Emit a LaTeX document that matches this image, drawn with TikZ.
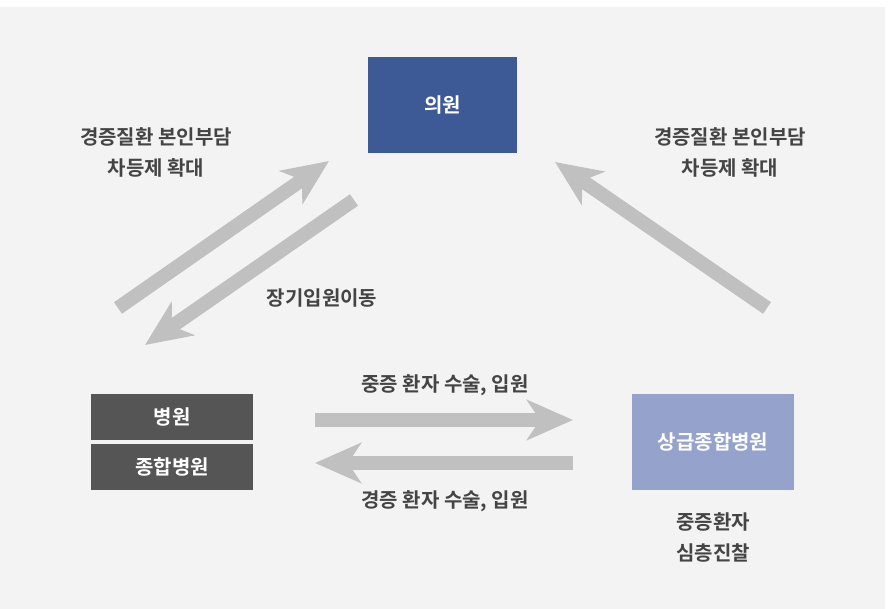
\documentclass[tikz,border=0pt]{standalone}
\usepackage{fontspec}
\newfontfamily\kr{Noto Sans CJK KR}[BoldFont={* Bold}]
\usetikzlibrary{arrows.meta}
\definecolor{bg}{HTML}{F3F3F3}
\definecolor{blueb}{HTML}{3D5A96}
\definecolor{darkb}{HTML}{555555}
\definecolor{lightb}{HTML}{95A3CC}
\definecolor{arr}{HTML}{C0C0C0}
\definecolor{txt}{HTML}{444444}
\begin{document}
\begin{tikzpicture}[x=1pt,y=-1pt,
  lbl/.style={font=\kr\bfseries\fontsize{20}{31}\selectfont, text=txt, align=center, inner sep=0pt},
  boxtxt/.style={font=\kr\bfseries\fontsize{20}{22}\selectfont, text=white, inner sep=0pt},
  bigarrow/.style={draw=arr, line width=14pt, -{Stealth[length=46pt,width=40pt,inset=13pt]}}]
\useasboundingbox (0,0) rectangle (889,609);
\fill[white] (0,0) rectangle (889,609);
\fill[bg] (0,7) rectangle (885,609);
% boxes
\fill[blueb] (368,57) rectangle (517,153);
\node[boxtxt] (clinic) at (442.5,105) {의원};
\fill[darkb] (91,394) rectangle (253,440);
\node[boxtxt] (hosp) at (172,417) {병원};
\fill[darkb] (91,444) rectangle (253,490);
\node[boxtxt] (genhosp) at (172,467) {종합병원};
\fill[lightb] (632,394) rectangle (794,490);
\node[boxtxt] (tert) at (713,442) {상급종합병원};
% labels
\node[lbl] (l1) at (156,152) {경증질환 본인부담\\차등제 확대};
\node[lbl] (l2) at (730,152) {경증질환 본인부담\\차등제 확대};
\node[lbl] (l3) at (322,298) {장기입원이동};
\node[lbl] (l4) at (445,385) {중증 환자 수술, 입원};
\node[lbl] (l5) at (445,501) {경증 환자 수술, 입원};
\node[lbl] (l6) at (713,537) {중증환자\\심층진찰};
% arrows
\coordinate (a1s) at (118,308);
\coordinate (a1e) at (329,161);
\coordinate (a2s) at (354,200);
\coordinate (a2e) at (145,345);
\coordinate (a3s) at (767,308);
\coordinate (a3e) at (555,162);
\coordinate (a4s) at (315,420);
\coordinate (a4e) at (573,420);
\coordinate (a5s) at (573,463);
\coordinate (a5e) at (315,463);
\draw[bigarrow] (a1s) -- (a1e);
\draw[bigarrow] (a2s) -- (a2e);
\draw[bigarrow] (a3s) -- (a3e);
\draw[bigarrow] (a4s) -- (a4e);
\draw[bigarrow] (a5s) -- (a5e);
\end{tikzpicture}
\end{document}
